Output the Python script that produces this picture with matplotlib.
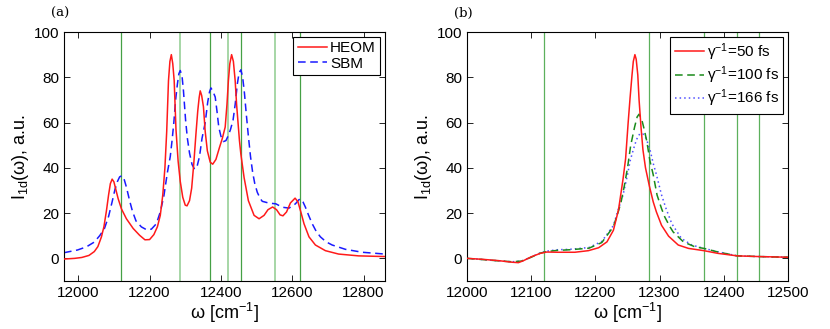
import numpy as np
import matplotlib
matplotlib.use('Agg')
import matplotlib.pyplot as plt

plt.rcParams['font.family'] = ['Liberation Sans', 'DejaVu Sans']
plt.rcParams['mathtext.fontset'] = 'custom'
plt.rcParams['mathtext.rm'] = 'Liberation Sans'
plt.rcParams['mathtext.it'] = 'Liberation Sans:italic'

# panel (a): HEOM vs SBM spectra
heom_w = [11960, 11990, 12010, 12030, 12045, 12055, 12065, 12072, 12079, 12085,
          12090, 12095, 12100, 12106, 12112, 12121, 12135, 12154, 12172, 12187,
          12200, 12212, 12222, 12230, 12237, 12243, 12248, 12253, 12257, 12261,
          12265, 12269, 12274, 12280, 12286, 12293, 12300, 12305, 12312, 12318,
          12324, 12330, 12335, 12339, 12342, 12346, 12351, 12356, 12362, 12370,
          12377, 12386, 12396, 12404, 12412, 12417, 12421, 12425, 12430, 12435,
          12440, 12444, 12448, 12452, 12456, 12465, 12477, 12493, 12507, 12521,
          12532, 12545, 12556, 12566, 12574, 12584, 12595, 12608, 12616, 12625,
          12633, 12647, 12665, 12693, 12730, 12786, 12860]
heom_i = [-0.3, 0.0, 0.4, 1.3, 3.0, 5.2, 9.5, 14, 21, 28,
          33, 35, 33.8, 30, 26.3, 21.9, 17.5, 13.2, 10.2, 8.2,
          8.3, 10.5, 14, 19, 28, 40, 56, 78.5, 87, 90,
          86, 78.5, 57, 43, 34, 27, 23.5, 23.2, 25.5, 31,
          42, 55, 65, 71, 74, 72, 67, 56, 47.5, 42.5,
          41.6, 43.7, 49, 53, 58, 68, 78.5, 86, 90, 87,
          78.5, 68, 60, 52, 46, 35.7, 25.5, 19, 17.5, 19,
          21.5, 22.7, 21.5, 19.2, 18.8, 20.5, 24.5, 26.6, 25, 20,
          15.3, 9.5, 5.9, 3.4, 1.9, 1.1, 0.8]

sbm_w = [11960, 11998, 12023, 12045, 12060, 12073, 12085, 12095, 12103, 12110,
         12116, 12122, 12128, 12135, 12144, 12152, 12162, 12177, 12192, 12205,
         12219, 12230, 12240, 12250, 12258, 12263, 12268, 12273, 12278, 12282,
         12286, 12291, 12295, 12301, 12306, 12312, 12319, 12326, 12333, 12340,
         12347, 12356, 12363, 12368, 12372, 12377, 12384, 12389, 12394, 12400,
         12407, 12414, 12420, 12427, 12434, 12440, 12446, 12451, 12456, 12461,
         12466, 12471, 12477, 12483, 12489, 12495, 12502, 12510, 12516, 12535,
         12554, 12572, 12591, 12609, 12618, 12623, 12630, 12637, 12646, 12656,
         12667, 12679, 12695, 12712, 12749, 12796, 12860]
sbm_i = [2.5, 3.7, 5.1, 7.2, 10, 13, 18.5, 25, 30.5, 34,
         36, 36.5, 35.3, 31.5, 25.5, 20.8, 16.5, 13.9, 12.6, 12.9,
         15.3, 20.5, 27.5, 38, 45, 52, 60, 70, 77, 81.5,
         83, 80.5, 74, 61, 53, 46.5, 41.5, 39.4, 40.5, 45,
         53, 60, 69, 73.5, 75.3, 74, 71.3, 65, 58, 54,
         51.6, 52, 54, 57, 61, 68, 77, 82, 83.3, 80,
         73, 64, 54, 45, 38, 33, 29.2, 26.5, 25.2, 24.4,
         24.1, 22.6, 22.2, 24.1, 25.8, 26.3, 25, 22.6, 19, 15.3,
         12, 9.5, 7.3, 5.9, 4, 2.7, 1.9]

lines_a = [12120, 12284, 12369, 12421, 12455, 12552, 12623]
light_a = [False, True, False, True, False, True, False]

# panel (b): different bath correlation times
g50_w = [12000, 12023, 12049, 12070, 12080, 12088, 12101, 12114, 12124, 12142,
         12168, 12189, 12205, 12218, 12228, 12236, 12243, 12247, 12251, 12254,
         12257, 12259, 12261.5, 12263.5, 12266, 12268, 12271, 12274, 12278, 12284,
         12290, 12295, 12303, 12314, 12329, 12345, 12369, 12391, 12421, 12454,
         12500]
g50_i = [0, -0.4, -1, -1.7, -1.9, -1, 0.8, 2.2, 2.8, 2.7,
         2.7, 3.4, 4.7, 7.3, 12.4, 21.5, 35, 44, 60, 71,
         81, 87, 90, 88, 81, 70, 58, 48, 40, 32,
         25, 20.5, 14.6, 9.8, 5.9, 4.4, 3.4, 2.2, 1.1, 0.8,
         0.5]

g100_w = [12000, 12023, 12049, 12070, 12085, 12100, 12114, 12124, 12140, 12160,
          12190, 12210, 12228, 12236, 12240, 12245, 12250, 12255, 12261, 12265,
          12268, 12272, 12276, 12280, 12285, 12290, 12296, 12303, 12308, 12316,
          12321, 12337, 12355, 12369, 12391, 12421, 12454, 12500]
g100_i = [0, -0.5, -1.1, -1.5, -1.2, 0.5, 2.3, 3.0, 3.5, 3.8,
          4.5, 7.0, 14, 21, 25, 32, 40, 50, 58, 62.5,
          63.7, 61.5, 57, 51.8, 43, 37, 28, 22, 18.3, 14,
          11.7, 7.3, 5.1, 4.4, 2.8, 1.1, 0.8, 0.5]

g166_w = [12000, 12023, 12049, 12070, 12085, 12100, 12114, 12124, 12140, 12160,
          12190, 12210, 12228, 12236, 12243, 12250, 12254, 12259, 12264, 12269,
          12274, 12279, 12285, 12290, 12295, 12303, 12310, 12319, 12334, 12350,
          12369, 12391, 12421, 12454, 12500]
g166_i = [0, -0.5, -1.1, -1.5, -1.2, 0.6, 2.4, 3.2, 3.8, 4.0,
          4.8, 7.5, 14.5, 22, 28, 37, 43, 48, 52.5, 55,
          55, 53, 48, 42, 37, 28, 22, 15.3, 8.8, 5.9,
          4.4, 2.9, 1.1, 0.8, 0.5]

lines_b = [12120, 12284, 12369, 12421, 12455]

fig = plt.figure(figsize=(8.3, 3.29), dpi=100)
ax1 = fig.add_axes([0.0771, 0.1459, 0.3867, 0.7568])
ax2 = fig.add_axes([0.5627, 0.1459, 0.3867, 0.7568])

for w, lt in zip(lines_a, light_a):
    if lt:
        ax1.axvline(w, color='#9fd39f', lw=1.3, zorder=1)
    else:
        ax1.axvline(w, color='#45a045', lw=0.9, zorder=1)
ax1.plot(heom_w, heom_i, color='#ff1a1a', lw=1.1, label='HEOM', zorder=3)
ax1.plot(sbm_w, sbm_i, color='#1a1aff', lw=1.1, ls=(0, (5, 3)), label='SBM', zorder=2)
ax1.set_xlim(11960, 12860)
ax1.set_xticks([12000, 12200, 12400, 12600, 12800])

for w in lines_b:
    ax2.axvline(w, color='#5cb05c', lw=0.9, zorder=1)
ax2.plot(g50_w, g50_i, color='#ff1a1a', lw=1.1, label='γ$^{-1}$=50 fs', zorder=4)
ax2.plot(g100_w, g100_i, color='#1a8a1a', lw=1.1, ls=(0, (5, 3)), label='γ$^{-1}$=100 fs', zorder=3)
ax2.plot(g166_w, g166_i, color='#5050ff', lw=1.1, ls=(0, (1, 2)), label='γ$^{-1}$=166 fs', zorder=2)
ax2.set_xlim(12000, 12500)
ax2.set_xticks([12000, 12100, 12200, 12300, 12400, 12500])

for ax, tag, lsp in [(ax1, '(a)', 0.1), (ax2, '(b)', 0.1)]:
    ax.set_ylim(-10, 100)
    ax.set_yticks([0, 20, 40, 60, 80, 100])
    ax.tick_params(direction='in', top=True, right=True, labelsize=11, length=4, width=0.6)
    for s in ax.spines.values():
        s.set_linewidth(0.8)
    ax.set_xlabel(r'ω [cm$^{-1}$]', fontsize=13, labelpad=1)
    ax.set_ylabel(r'I$_{\rm 1d}$(ω), a.u.', fontsize=13, labelpad=2)
    ax.text(-0.04, 1.1, tag, transform=ax.transAxes, fontsize=9.5,
            family='DejaVu Serif', ha='left', va='top')
    leg = ax.legend(loc='upper right', fontsize=11, fancybox=False, framealpha=1,
                    edgecolor='black', borderpad=0.3, handlelength=1.9,
                    handletextpad=0.2, labelspacing=lsp, borderaxespad=0.3)
    leg.get_frame().set_linewidth(0.8)

fig.savefig('out.png', dpi=100)
